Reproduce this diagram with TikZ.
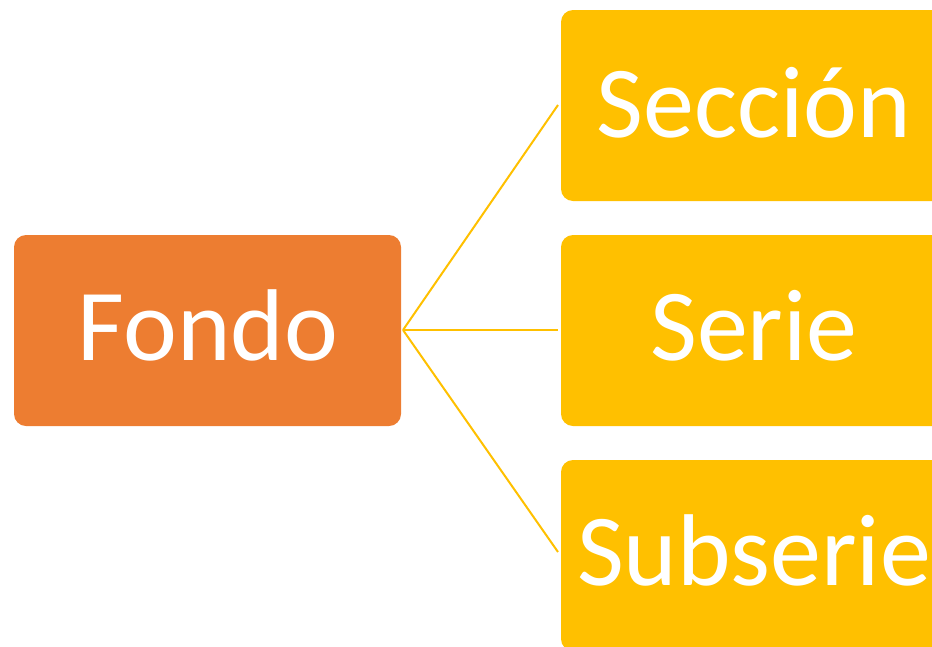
\documentclass[tikz,border=0pt]{standalone}
\usepackage{fontspec}
\setmainfont{Carlito}
\definecolor{orangebox}{HTML}{ED7D31}
\definecolor{goldbox}{HTML}{FFC000}
\tikzset{
  box/.style={rounded corners=12pt, draw=none},
  lbl/.style={anchor=base, text=white, font=\fontsize{102}{110}\selectfont, inner sep=0pt},
  link/.style={draw=goldbox, line width=2pt}
}
\begin{document}
\begin{tikzpicture}[x=1pt,y=-1pt]
\useasboundingbox (0,0) rectangle (932,646);
\clip (0,0) rectangle (932,646);
\fill[box, orangebox] (14,235) rectangle (401,426);
\fill[box, goldbox] (561,10) rectangle (948,201);
\fill[box, goldbox] (561,235) rectangle (948,426);
\fill[box, goldbox] (561,460) rectangle (948,651);
\coordinate (f) at (403,330);
\coordinate (a) at (558,105);
\coordinate (b) at (558,330);
\coordinate (c) at (558,552);
\node[lbl] (fondo) at (208,360) {Fondo};
\node[lbl] (seccion) at (754,137) {Sección};
\node[lbl] (serie) at (754,360) {Serie};
\node[lbl] (subserie) at (754,585) {Subserie};
\draw[link] (f) -- (a);
\draw[link] (f) -- (b);
\draw[link] (f) -- (c);
\end{tikzpicture}
\end{document}
